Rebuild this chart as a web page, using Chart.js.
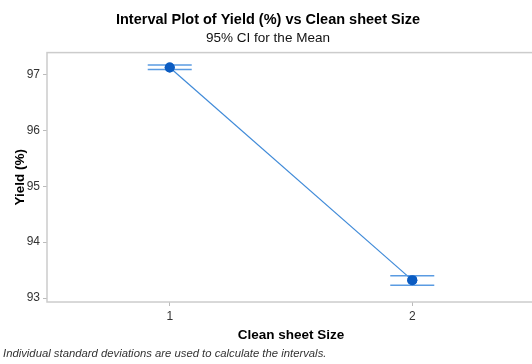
<!DOCTYPE html>
<html>
<head>
<meta charset="utf-8">
<script src="https://cdn.jsdelivr.net/npm/chart.js@4/dist/chart.umd.min.js"></script>
<style>
  html, body { margin: 0; padding: 0; background: #fff; overflow: hidden; }
  #wrap { position: relative; width: 532px; height: 364px; overflow: hidden; }
  #box { position: absolute; left: 0; top: 0; width: 540px; height: 364px; }
  #note {
    position: absolute; left: 3px; top: 347px;
    font: italic 11.3px "Liberation Sans", Arial, sans-serif; color: #333;
    white-space: nowrap;
  }
</style>
</head>
<body>
<div id="wrap">
  <div id="box"><canvas id="intervalChart"></canvas></div>
  <div id="note">Individual standard deviations are used to calculate the intervals.</div>
</div>
<script>
// interval plot data

const categories = [1, 2];
const means = [97.125, 93.32];
const ciUpper = [97.17, 93.40];
const ciLower = [97.09, 93.23];
const yTicks = [93, 94, 95, 96, 97];

const FONT = "'Liberation Sans', Arial, sans-serif";

// draw the grey frame round the plot area
const framePlugin = {
  id: "frame",
  beforeDatasetsDraw(chart) {
    const { ctx, chartArea: a } = chart;
    ctx.save();
    ctx.strokeStyle = "#cccccc";
    ctx.lineWidth = 1.5;
    ctx.strokeRect(a.left, a.top, a.right - a.left, a.bottom - a.top);
    ctx.restore();
  },
};

// confidence interval caps at each category
const ciPlugin = {
  id: "ciBars",
  afterDatasetsDraw(chart) {
    const { ctx, scales } = chart;
    ctx.save();
    ctx.strokeStyle = "#5a9be2";
    ctx.lineWidth = 1.5;
    categories.forEach((c, i) => {
      const x = scales.x.getPixelForValue(c);
      [ciUpper[i], ciLower[i]].forEach((v) => {
        const y = scales.y.getPixelForValue(v);
        ctx.beginPath();
        ctx.moveTo(x - 22, y);
        ctx.lineTo(x + 22, y);
        ctx.stroke();
      });
    });
    ctx.restore();
    // dots on top of the caps
    chart.getDatasetMeta(0).data.forEach((pt) => pt.draw(ctx, chart.chartArea));
  },
};

new Chart(document.getElementById("intervalChart"), {
  type: "scatter",
  data: {
    datasets: [
      {
        data: categories.map((c, i) => ({ x: c, y: means[i] })),
        showLine: true,
        borderColor: "#3f8ad8",
        borderWidth: 1.2,
        pointRadius: 5,
        pointBackgroundColor: "#0b5cc2",
        pointBorderColor: "#0b5cc2",
        pointBorderWidth: 0,
      },
    ],
  },
  options: {
    responsive: true,
    maintainAspectRatio: false,
    animation: false,
    layout: { padding: { left: 0, right: 4, top: 0, bottom: 18 } },
    scales: {
      x: {
        type: "linear",
        min: 0.494,
        max: 2.506,
        afterBuildTicks: (s) => { s.ticks = categories.map((v) => ({ value: v })); },
        afterFit: (s) => { s.height = 44; },
        grid: { display: true, drawOnChartArea: false, drawTicks: true, tickLength: 4, color: "#bbbbbb" },
        border: { display: false },
        ticks: { color: "#333", font: { family: FONT, size: 12 }, padding: 3 },
        title: {
          display: true,
          text: "Clean sheet Size",
          color: "#000",
          font: { family: FONT, size: 13.5, weight: "bold" },
          padding: { top: 0, bottom: 3 },
        },
      },
      y: {
        min: 92.929,
        max: 97.393,
        afterBuildTicks: (s) => { s.ticks = yTicks.map((v) => ({ value: v })); },
        afterFit: (s) => { s.width = 47; },
        grid: { display: true, drawOnChartArea: false, drawTicks: true, tickLength: 4, color: "#bbbbbb" },
        border: { display: false },
        ticks: { color: "#333", font: { family: FONT, size: 12 }, padding: 3 },
        title: {
          display: true,
          text: "Yield (%)",
          color: "#000",
          font: { family: FONT, size: 13.5, weight: "bold" },
          padding: { top: 12, bottom: 0 },
        },
      },
    },
    plugins: {
      legend: { display: false },
      tooltip: { enabled: false },
      title: {
        display: true,
        text: "Interval Plot of Yield (%) vs Clean sheet Size",
        color: "#000",
        font: { family: FONT, size: 14.5, weight: "bold" },
        padding: { top: 11, bottom: 2 },
      },
      subtitle: {
        display: true,
        text: "95% CI for the Mean",
        color: "#111",
        font: { family: FONT, size: 13.5 },
        padding: { top: 0, bottom: 6 },
      },
    },
  },
  plugins: [framePlugin, ciPlugin],
});
</script>
</body>
</html>
